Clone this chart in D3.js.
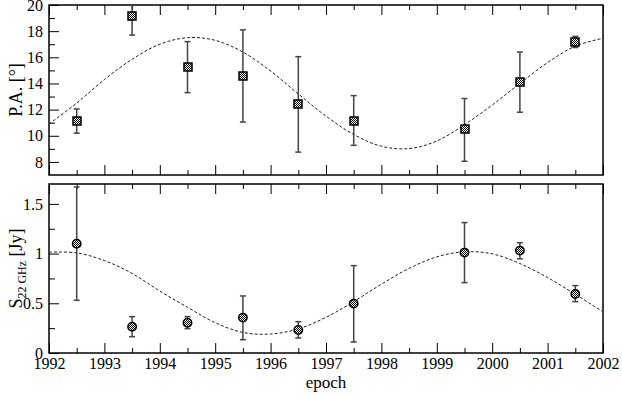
<!DOCTYPE html>
<html>
<head>
<meta charset="utf-8">
<script src="https://cdn.jsdelivr.net/npm/d3@7"></script>
<style>
  body { margin: 0; background: #fff; }
  svg text { font-family: "Liberation Serif", "DejaVu Serif", serif; }
</style>
</head>
<body>
<svg id="chart" width="622" height="394"></svg>
<script>
// observing epochs (same for both panels)
const epochs = [1992.5, 1993.5, 1994.5, 1995.5, 1996.5, 1997.5, 1999.5, 2000.5, 2001.5];

// position angle with error bar ends
const paValues = [11.15, 19.15, 15.25, 14.55, 12.4, 11.15, 10.5, 14.1, 17.15];
const paLow    = [10.2, 17.7, 13.3, 11.05, 8.75, 9.27, 8.05, 11.8, 16.75];
const paHigh   = [12.05, 20.7, 17.2, 18.1, 16.05, 13.07, 12.85, 16.4, 17.6];

// 22 GHz flux density with error bar ends
const fluxValues = [1.1, 0.265, 0.305, 0.356, 0.232, 0.497, 1.01, 1.03, 0.594];
const fluxLow    = [0.53, 0.164, 0.245, 0.134, 0.151, 0.111, 0.708, 0.947, 0.517];
const fluxHigh   = [1.67, 0.366, 0.366, 0.574, 0.315, 0.879, 1.312, 1.11, 0.678];

// dashed model curves, every half year
const curveEpochs = [1992, 1992.5, 1993, 1993.5, 1994, 1994.5, 1995, 1995.5, 1996, 1996.5, 1997,
                     1997.5, 1998, 1998.5, 1999, 1999.5, 2000, 2000.5, 2001, 2001.5, 2002];
const paCurve   = [10.9, 12.5, 14.3, 15.85, 17.0, 17.5, 17.3, 16.4, 14.95, 13.2, 11.5,
                   10.1, 9.2, 9.02, 9.6, 10.85, 12.35, 14.0, 15.6, 16.85, 17.46];
const fluxCurve = [1.014, 1.007, 0.93, 0.8, 0.623, 0.46, 0.305, 0.207, 0.191, 0.243, 0.359,
                   0.517, 0.692, 0.851, 0.967, 1.018, 0.997, 0.9, 0.759, 0.59, 0.415];

const xTicks = [1992, 1993, 1994, 1995, 1996, 1997, 1998, 1999, 2000, 2001, 2002];

const svg = d3.select('#chart');
const left = 49, right = 603;
const topPanel = { y0: 5, y1: 175 };
const botPanel = { y0: 184, y1: 353 };

const x = d3.scaleLinear().domain([1992, 2002]).range([left, right]);
const yPA = d3.scaleLinear().domain([7, 20]).range([topPanel.y1, topPanel.y0]);
const yS = d3.scaleLinear().domain([0, 1.7]).range([botPanel.y1, botPanel.y0]);

// checkered fill for the symbols
const defs = svg.append('defs');
const pat = defs.append('pattern')
  .attr('id', 'checker')
  .attr('width', 2).attr('height', 2)
  .attr('patternUnits', 'userSpaceOnUse');
pat.append('rect').attr('width', 2).attr('height', 2).attr('fill', '#fff');
pat.append('rect').attr('width', 1).attr('height', 1).attr('fill', '#000');
pat.append('rect').attr('x', 1).attr('y', 1).attr('width', 1).attr('height', 1).attr('fill', '#000');

function drawPanel(p, y, yMajor, yMinor, yFmt, showX, id) {
  defs.append('clipPath').attr('id', id)
    .append('rect')
    .attr('x', left).attr('y', p.y0)
    .attr('width', right - left).attr('height', p.y1 - p.y0);

  const minorX = d3.range(1992.5, 2002, 1);

  // bottom ticks (inward)
  const gb = svg.append('g').attr('transform', `translate(0,${p.y1})`);
  gb.call(d3.axisBottom(x).tickValues(xTicks).tickSize(-10).tickPadding(5)
    .tickFormat(showX ? d3.format('d') : ''));
  gb.append('g').call(d3.axisBottom(x).tickValues(minorX).tickSize(-5).tickFormat(''));

  // top ticks (inward)
  const gt = svg.append('g').attr('transform', `translate(0,${p.y0})`);
  gt.call(d3.axisTop(x).tickValues(xTicks).tickSize(-10).tickFormat(''));
  gt.append('g').call(d3.axisTop(x).tickValues(minorX).tickSize(-5).tickFormat(''));

  // left ticks (inward)
  const gl = svg.append('g').attr('transform', `translate(${left},0)`);
  gl.call(d3.axisLeft(y).tickValues(yMajor).tickSize(-10).tickPadding(6).tickFormat(yFmt));
  gl.append('g').call(d3.axisLeft(y).tickValues(yMinor).tickSize(-6).tickFormat(''));

  svg.selectAll('.domain').remove();
  [gb, gt, gl].forEach(g => {
    g.selectAll('line').attr('stroke', '#000').attr('stroke-width', 1);
    g.selectAll('text').attr('font-size', 16).attr('fill', '#000')
      .style('font-family', '"Liberation Serif", serif');
  });

  // frame
  svg.append('rect')
    .attr('x', left).attr('y', p.y0)
    .attr('width', right - left).attr('height', p.y1 - p.y0)
    .attr('fill', 'none').attr('stroke', '#000').attr('stroke-width', 1.5);
}

drawPanel(topPanel, yPA, d3.range(8, 21, 2), d3.range(9, 20, 2), d3.format('d'), false, 'clipTop');
drawPanel(botPanel, yS, [0, 0.5, 1, 1.5], [0.25, 0.75, 1.25], d => d3.format('')(d), true, 'clipBot');

// model curves
const line = (y) => d3.line()
  .x((d, i) => x(curveEpochs[i]))
  .y(d => y(d))
  .curve(d3.curveCatmullRom);

svg.append('path')
  .attr('clip-path', 'url(#clipTop)')
  .attr('d', line(yPA)(paCurve))
  .attr('fill', 'none').attr('stroke', '#222').attr('stroke-width', 1)
  .attr('stroke-dasharray', '3,2');

svg.append('path')
  .attr('clip-path', 'url(#clipBot)')
  .attr('d', line(yS)(fluxCurve))
  .attr('fill', 'none').attr('stroke', '#222').attr('stroke-width', 1)
  .attr('stroke-dasharray', '3,2');

// error bars
function errorBars(y, lo, hi, clip) {
  const g = svg.append('g').attr('clip-path', `url(#${clip})`)
    .attr('stroke', '#444').attr('stroke-width', 1.5);
  epochs.forEach((t, i) => {
    const cx = x(t);
    g.append('line').attr('x1', cx).attr('x2', cx).attr('y1', y(lo[i])).attr('y2', y(hi[i]));
    g.append('line').attr('x1', cx - 3).attr('x2', cx + 3).attr('y1', y(lo[i])).attr('y2', y(lo[i]));
    g.append('line').attr('x1', cx - 3).attr('x2', cx + 3).attr('y1', y(hi[i])).attr('y2', y(hi[i]));
  });
}
errorBars(yPA, paLow, paHigh, 'clipTop');
errorBars(yS, fluxLow, fluxHigh, 'clipBot');

// symbols
svg.append('g').selectAll('rect')
  .data(paValues)
  .enter()
  .append('rect')
  .attr('x', (d, i) => Math.round(x(epochs[i])) - 4)
  .attr('y', d => Math.round(yPA(d)) - 4)
  .attr('width', 8).attr('height', 8)
  .attr('fill', 'url(#checker)')
  .attr('stroke', '#000').attr('stroke-width', 1.5);

svg.append('g').selectAll('circle')
  .data(fluxValues)
  .enter()
  .append('circle')
  .attr('cx', (d, i) => x(epochs[i]))
  .attr('cy', d => yS(d))
  .attr('r', 4.2)
  .attr('fill', 'url(#checker)')
  .attr('stroke', '#000').attr('stroke-width', 1.5);

// axis titles
svg.append('text')
  .attr('transform', `translate(22,${(topPanel.y0 + topPanel.y1) / 2}) rotate(-90)`)
  .attr('text-anchor', 'middle')
  .attr('font-size', 18)
  .text('P.A. [°]');

const sLabel = svg.append('text')
  .attr('transform', `translate(22,${(botPanel.y0 + botPanel.y1) / 2}) rotate(-90)`)
  .attr('text-anchor', 'middle')
  .attr('font-size', 18);
sLabel.append('tspan').text('S');
sLabel.append('tspan').attr('font-size', 12).attr('dy', 4).text('22 GHz');
sLabel.append('tspan').attr('dy', -4).text(' [Jy]');

svg.append('text')
  .attr('x', (left + right) / 2)
  .attr('y', 388)
  .attr('text-anchor', 'middle')
  .attr('font-size', 17)
  .text('epoch');
</script>
</body>
</html>
